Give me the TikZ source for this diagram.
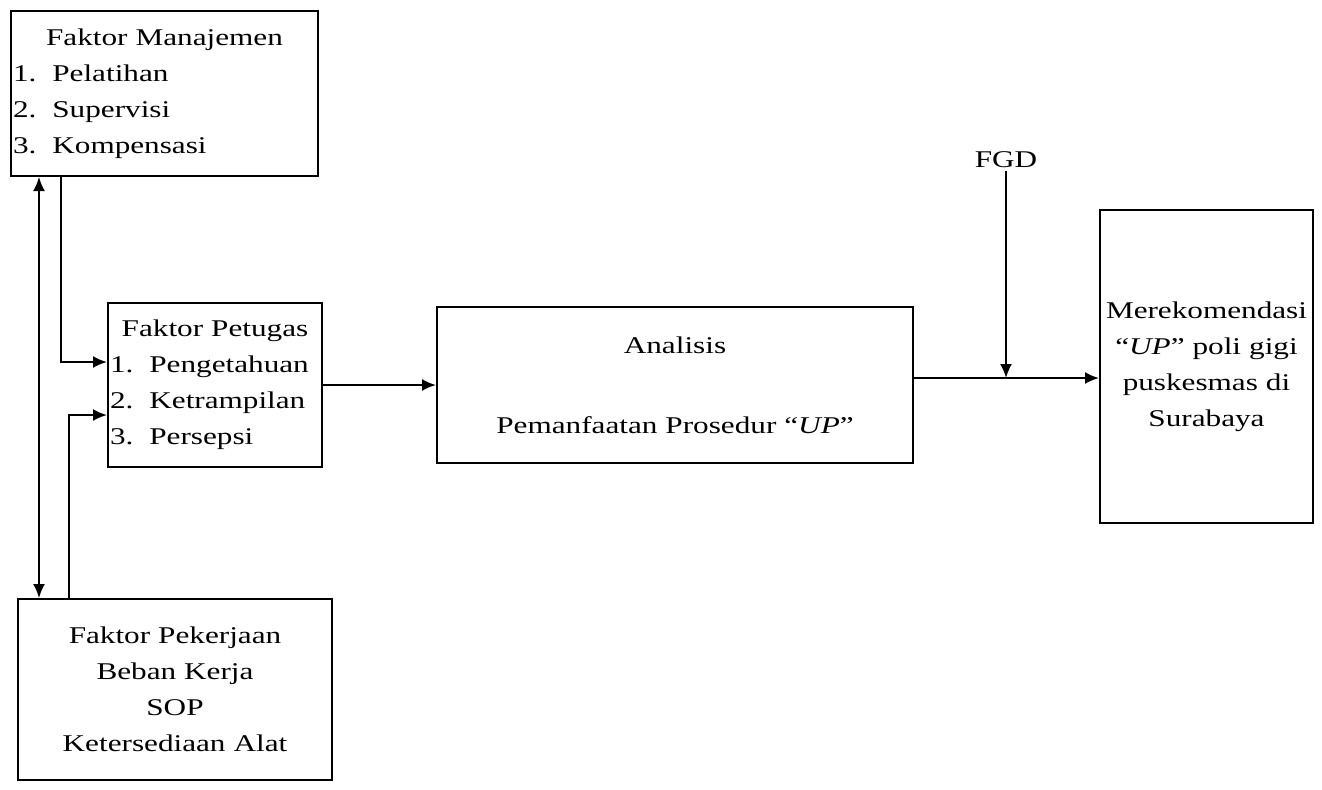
\documentclass[tikz,border=0pt]{standalone}
\usepackage{fontspec}
\setmainfont{Liberation Serif}[FakeStretch=1.3]
\usetikzlibrary{arrows.meta}
\newcommand{\ttl}[1]{\makebox[\hsize]{#1}}

\begin{document}
\begin{tikzpicture} [x = 0.5pt, y = -0.5pt, line width = 1pt,
  font = \fontsize{12}{18}\selectfont,
  box/.style = {draw, rectangle, inner xsep = 1pt, inner ysep = 0pt, align = center},
  tip/.tip = {Latex[length = 7pt, width = 6pt]},
  arr/.style = {-tip}]
\useasboundingbox (0,0) rectangle (1322,789);
\node(mgmt)[box, align = left, text width = 151.5pt, minimum height = 82.5pt] at (164.5,93.5)
  {\ttl{Faktor Manajemen}\\1.~~Pelatihan\\2.~~Supervisi\\3.~~Kompensasi};
\node(staff)[box, align = left, text width = 105pt, minimum height = 82pt] at (215,385)
  {\ttl{Faktor Petugas}\\1.~~Pengetahuan\\2.~~Ketrampilan\\3.~~Persepsi};
\node(work)[box, text width = 155pt, minimum height = 90.5pt] at (175,689.5)
  {Faktor Pekerjaan\\Beban Kerja\\SOP\\Ketersediaan Alat};
\node(anl)[box, text width = 236pt, minimum height = 78pt] at (675,385)
  {Analisis\\[22pt]Pemanfaatan Prosedur “\textit{UP}”};
\node(rec)[box, text width = 104.5pt, minimum height = 156.5pt] at (1206.5,366.5)
  {Merekomendasi\\“\textit{UP}” poli gigi\\puskesmas di\\Surabaya};
\node(fgd)[inner sep = 1pt] at (1006,160) {FGD};
\coordinate(out) at ([yshift = 3.5pt]anl.east);
\draw[tip-tip] ([xshift = 14.5pt]mgmt.south west) -- ([xshift = 14.5pt]mgmt.south west |- work.north);
\draw[arr] ([xshift = 25.5pt]mgmt.south west) |- ([yshift = 11.5pt]staff.west);
\draw[arr] ([xshift = 26pt]work.north west) |- ([yshift = -15pt]staff.west);
\draw[arr] (staff.east) -- (anl.west);
\draw[arr] (out) -- (out -| rec.west);
\draw[arr] (fgd.south) -- (fgd.south |- out);
\end{tikzpicture}
\end{document}
